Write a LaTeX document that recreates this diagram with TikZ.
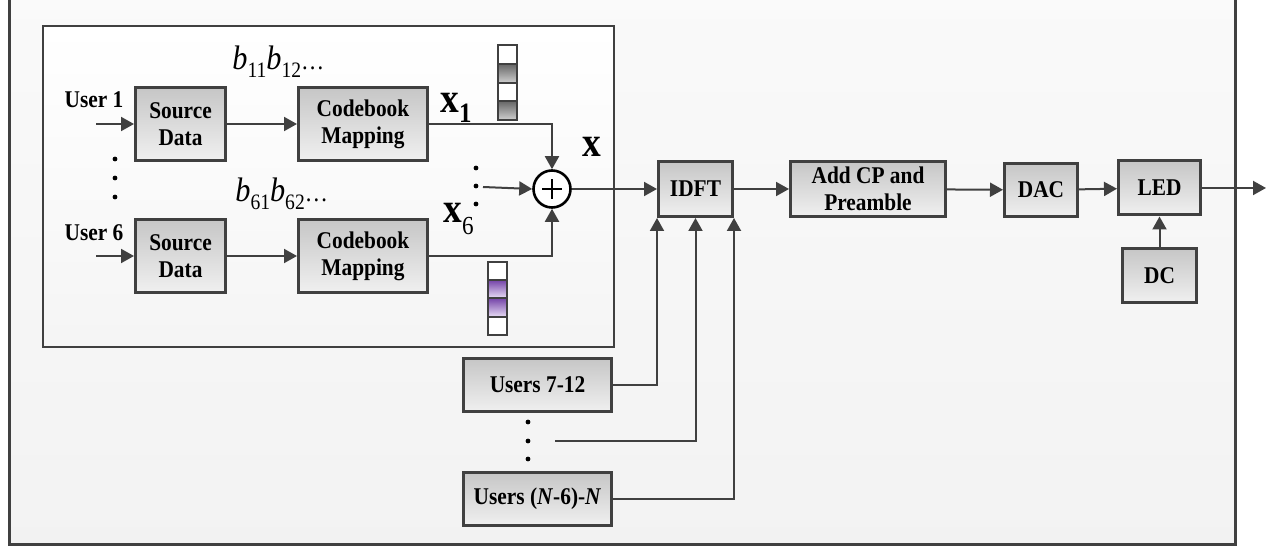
\documentclass[tikz,border=0pt]{standalone}
\usepackage{fontspec}
\setmainfont{Liberation Serif}[FakeStretch=0.89]
\usepackage{tikz}
\usetikzlibrary{arrows.meta}

\definecolor{linegray}{HTML}{404040}
\definecolor{boxtop}{HTML}{C6C6C6}
\definecolor{boxbottom}{HTML}{F0F0F0}
\definecolor{cellgray}{HTML}{666666}
\definecolor{celllight}{HTML}{D0D0D0}
\definecolor{cellpurple}{HTML}{7443A8}
\definecolor{celllilac}{HTML}{E8DDF5}

\newcommand{\bits}[1]{\textit{b}\raisebox{-4pt}{\fontsize{11}{11}\selectfont #1}}

\begin{document}
\begin{tikzpicture}[x=0.5pt,y=-0.5pt,
	block/.style={rectangle,draw=linegray,line width=1.5pt,top color=boxtop,bottom color=boxbottom,
		align=center,inner sep=0pt,font=\fontsize{12}{13.5}\selectfont\bfseries},
	link/.style={draw=linegray,line width=1pt},
	arr/.style={link,-{Triangle[length=6.5pt,width=7pt]}},
	cellbox/.style={draw=linegray,line width=1.1pt},
	lbl/.style={inner sep=0pt,font=\fontsize{12}{12}\selectfont\bfseries},
	dot/.style={fill=black}]
	\useasboundingbox (0,0) rectangle (1270,550);
	\clip (0,0) rectangle (1270,550);
%	\draw[help lines,step=50] (0,0) grid (1270,550);

	% frames
	\draw[draw=linegray,line width=1.5pt,top color=white!98!black,bottom color=white!95!black] (9,-10) rectangle (1235,545);
	\draw[draw=linegray,line width=1.1pt,top color=white,bottom color=white!96!black] (43,26) rectangle (614,347);

	\path (96,124) coordinate (in1);
	\path (96,256) coordinate (in6);
	\path (483,187) coordinate (dotsin);
	\path (555,441) coordinate (dotsusr);
	\path (1266,188) coordinate (ledout);

	\path (94,100) node(user1) [lbl] {User 1};
	\path (94,233) node(user6) [lbl] {User 6};
	\path (180.5,124) node(src1) [block,minimum width=45pt,minimum height=36.5pt] {Source\\Data};
	\path (363,124) node(cb1) [block,minimum width=64.5pt,minimum height=36.5pt] {Codebook\\Mapping};
	\path (180.5,256) node(src6) [block,minimum width=45pt,minimum height=36.5pt] {Source\\Data};
	\path (363,256) node(cb6) [block,minimum width=64.5pt,minimum height=36.5pt] {Codebook\\Mapping};
	\path (232,70) node(bits1) [anchor=base west,inner sep=0pt,font=\fontsize{17}{17}\selectfont] {\bits{11}\bits{12}{\fontsize{13}{13}\selectfont\ldots}};
	\path (235,202) node(bits6) [anchor=base west,inner sep=0pt,font=\fontsize{17}{17}\selectfont] {\bits{61}\bits{62}{\fontsize{13}{13}\selectfont\ldots}};
	\path (440,113) node(xone) [anchor=base west,inner sep=0pt] {{\fontsize{21}{21}\selectfont\bfseries x}\raisebox{-5pt}{\fontsize{14}{14}\selectfont\bfseries 1}};
	\path (443,223) node(xsix) [anchor=base west,inner sep=0pt] {{\fontsize{21}{21}\selectfont\bfseries x}\raisebox{-6pt}{\fontsize{13}{13}\selectfont 6}};
	\path (592,147) node(xsum) [inner sep=0pt,font=\fontsize{21}{21}\selectfont\bfseries] {x};
	\path (552,189) node(adder) [circle,draw=black,line width=1.3pt,fill=white,minimum size=18.5pt,inner sep=0pt] {};
	\draw[black,line width=0.8pt] (adder.center) +(-5pt,0) -- +(5pt,0) +(0,-5pt) -- +(0,5pt);

	\path (695.5,189) node(idft) [block,minimum width=37pt,minimum height=27.5pt] {IDFT};
	\path (868,189) node(addcp) [block,minimum width=77.5pt,minimum height=27.5pt] {Add CP and\\Preamble};
	\path (1041,190) node(dac) [block,minimum width=36.5pt,minimum height=26.5pt] {DAC};
	\path (1159.5,188) node(led) [block,minimum width=41pt,minimum height=27pt] {LED};
	\path (1159.5,275.5) node(dc) [block,minimum width=37pt,minimum height=27pt] {DC};
	\path (537.5,385) node(usr7) [block,minimum width=74pt,minimum height=26.5pt] {Users 7-12};
	\path (537.5,499) node(usrN) [block,minimum width=74pt,minimum height=26.5pt] {Users (\textit{N}-6)-\textit{N}};

	% code vectors
	\draw[cellbox,fill=white] (498,45) rectangle (517,64);
	\draw[cellbox,top color=cellgray,bottom color=celllight] (498,64) rectangle (517,83);
	\draw[cellbox,fill=white] (498,83) rectangle (517,101);
	\draw[cellbox,top color=cellgray,bottom color=celllight] (498,101) rectangle (517,120);
	\draw[cellbox,fill=white] (488,262) rectangle (507,280);
	\draw[cellbox,top color=cellpurple,bottom color=celllilac] (488,280) rectangle (507,298);
	\draw[cellbox,top color=cellpurple,bottom color=celllilac] (488,298) rectangle (507,317);
	\draw[cellbox,fill=white] (488,317) rectangle (507,335);

	\fill[dot] (115,159) circle[radius=1.2pt] (115,178) circle[radius=1.2pt] (115,197) circle[radius=1.2pt];
	\fill[dot] (476,168) circle[radius=1.2pt] (476,186) circle[radius=1.2pt] (476,204) circle[radius=1.2pt];
	\fill[dot] (528,422) circle[radius=1.2pt] (528,441) circle[radius=1.2pt] (528,459) circle[radius=1.2pt];

	\draw[arr] (in1) -- (src1);
	\draw[arr] (src1) -- (cb1);
	\draw[arr] (in6) -- (src6);
	\draw[arr] (src6) -- (cb6);
	\draw[arr] (cb1.east) -| (adder.north);
	\draw[arr] (cb6.east) -| (adder.south);
	\draw[arr] (dotsin) -- (adder.west);
	\draw[arr] (adder) -- (idft);
	\draw[arr] (idft) -- (addcp);
	\draw[arr] (addcp) -- (dac);
	\draw[arr] (dac) -- (led);
	\draw[arr] (led) -- (ledout);
	\draw[arr] (dc) -- (led);
	\draw[arr] (usr7.east) -| (idft.south west);
	\draw[arr] (dotsusr) -| (idft.south);
	\draw[arr] (usrN.east) -| (idft.south east);
\end{tikzpicture}
\end{document}
